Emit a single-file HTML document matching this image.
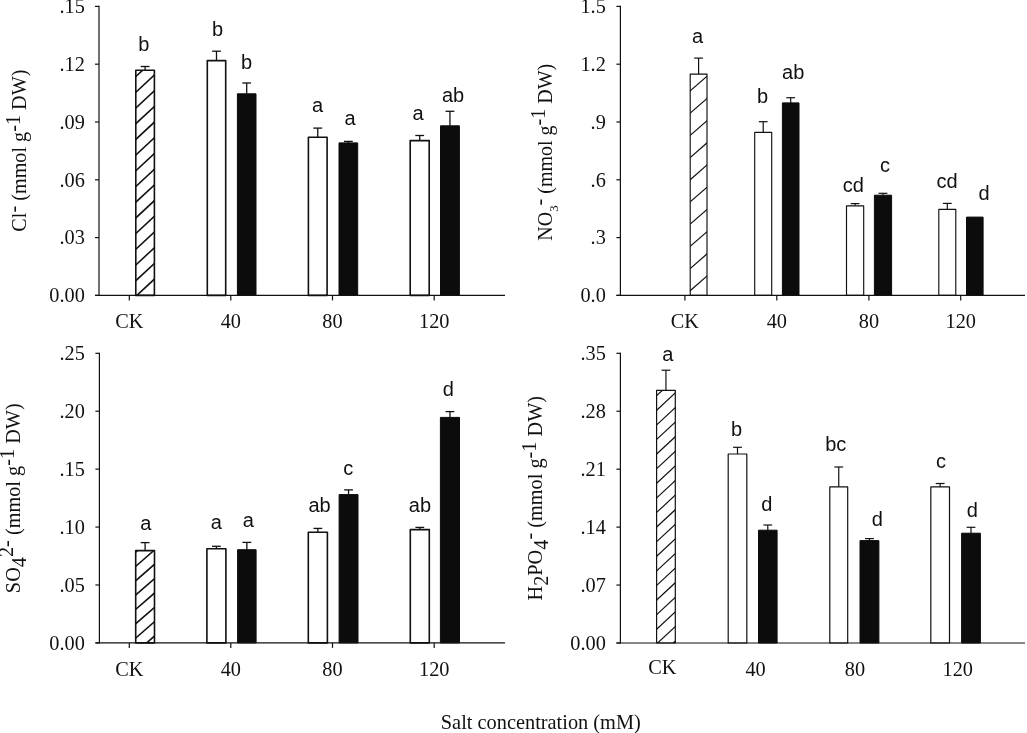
<!DOCTYPE html>
<html lang="en"><head><meta charset="utf-8"><title>Anion concentrations under salt stress</title>
<style>html,body{margin:0;padding:0;background:#fff}svg{display:block}</style></head><body>
<svg width="1027" height="733" viewBox="0 0 1027 733" role="img" aria-label="Anion concentrations (Cl-, NO3-, SO4 2-, H2PO4-) versus salt concentration" stroke-linejoin="round">
<rect width="1027" height="733" fill="#fff"/>
<line x1="145.10" y1="66.50" x2="145.10" y2="70.20" stroke="#111" stroke-width="1.3"/>
<line x1="140.70" y1="66.50" x2="149.50" y2="66.50" stroke="#111" stroke-width="1.3"/>
<clipPath id="c1"><rect x="135.80" y="70.20" width="18.60" height="225.20"/></clipPath>
<rect x="135.80" y="70.20" width="18.60" height="225.20" fill="#fff"/>
<g clip-path="url(#c1)">
<line x1="134.80" y1="297.33" x2="155.40" y2="278.17" stroke="#111" stroke-width="1.6"/>
<line x1="134.80" y1="281.63" x2="155.40" y2="262.47" stroke="#111" stroke-width="1.6"/>
<line x1="134.80" y1="265.93" x2="155.40" y2="246.77" stroke="#111" stroke-width="1.6"/>
<line x1="134.80" y1="250.23" x2="155.40" y2="231.07" stroke="#111" stroke-width="1.6"/>
<line x1="134.80" y1="234.53" x2="155.40" y2="215.37" stroke="#111" stroke-width="1.6"/>
<line x1="134.80" y1="218.83" x2="155.40" y2="199.67" stroke="#111" stroke-width="1.6"/>
<line x1="134.80" y1="203.13" x2="155.40" y2="183.97" stroke="#111" stroke-width="1.6"/>
<line x1="134.80" y1="187.43" x2="155.40" y2="168.27" stroke="#111" stroke-width="1.6"/>
<line x1="134.80" y1="171.73" x2="155.40" y2="152.57" stroke="#111" stroke-width="1.6"/>
<line x1="134.80" y1="156.03" x2="155.40" y2="136.87" stroke="#111" stroke-width="1.6"/>
<line x1="134.80" y1="140.33" x2="155.40" y2="121.17" stroke="#111" stroke-width="1.6"/>
<line x1="134.80" y1="124.63" x2="155.40" y2="105.47" stroke="#111" stroke-width="1.6"/>
<line x1="134.80" y1="108.93" x2="155.40" y2="89.77" stroke="#111" stroke-width="1.6"/>
<line x1="134.80" y1="93.23" x2="155.40" y2="74.07" stroke="#111" stroke-width="1.6"/>
<line x1="134.80" y1="77.53" x2="155.40" y2="58.37" stroke="#111" stroke-width="1.6"/>
<line x1="134.80" y1="313.03" x2="155.40" y2="293.87" stroke="#111" stroke-width="1.6"/>
</g>
<rect x="135.80" y="70.20" width="18.60" height="225.20" fill="none" stroke="#111" stroke-width="1.6"/>
<line x1="216.50" y1="51.20" x2="216.50" y2="60.60" stroke="#111" stroke-width="1.3"/>
<line x1="212.10" y1="51.20" x2="220.90" y2="51.20" stroke="#111" stroke-width="1.3"/>
<rect x="207.30" y="60.60" width="18.40" height="234.80" fill="#fff" stroke="#111" stroke-width="1.6"/>
<line x1="246.70" y1="83.00" x2="246.70" y2="93.80" stroke="#111" stroke-width="1.3"/>
<line x1="242.30" y1="83.00" x2="251.10" y2="83.00" stroke="#111" stroke-width="1.3"/>
<rect x="237.40" y="93.80" width="18.60" height="201.60" fill="#0c0c0c" stroke="#0c0c0c" stroke-width="1"/>
<line x1="317.75" y1="128.10" x2="317.75" y2="137.30" stroke="#111" stroke-width="1.3"/>
<line x1="313.35" y1="128.10" x2="322.15" y2="128.10" stroke="#111" stroke-width="1.3"/>
<rect x="308.40" y="137.30" width="18.70" height="158.10" fill="#fff" stroke="#111" stroke-width="1.6"/>
<line x1="348.35" y1="141.40" x2="348.35" y2="142.90" stroke="#111" stroke-width="1.3"/>
<line x1="343.95" y1="141.40" x2="352.75" y2="141.40" stroke="#111" stroke-width="1.3"/>
<rect x="339.00" y="142.90" width="18.70" height="152.50" fill="#0c0c0c" stroke="#0c0c0c" stroke-width="1"/>
<line x1="419.70" y1="135.50" x2="419.70" y2="140.60" stroke="#111" stroke-width="1.3"/>
<line x1="415.30" y1="135.50" x2="424.10" y2="135.50" stroke="#111" stroke-width="1.3"/>
<rect x="410.20" y="140.60" width="19.00" height="154.80" fill="#fff" stroke="#111" stroke-width="1.6"/>
<line x1="449.95" y1="111.30" x2="449.95" y2="125.80" stroke="#111" stroke-width="1.3"/>
<line x1="445.55" y1="111.30" x2="454.35" y2="111.30" stroke="#111" stroke-width="1.3"/>
<rect x="440.50" y="125.80" width="18.90" height="169.60" fill="#0c0c0c" stroke="#0c0c0c" stroke-width="1"/>
<line x1="99.00" y1="5.80" x2="99.00" y2="296.00" stroke="#111" stroke-width="1.2"/>
<line x1="95.00" y1="295.40" x2="505.00" y2="295.40" stroke="#111" stroke-width="1.2"/>
<line x1="95.00" y1="6.40" x2="99.00" y2="6.40" stroke="#111" stroke-width="1.2"/>
<text x="84.80" y="13.10" font-size="20.3" text-anchor="end" font-family='"Liberation Serif", serif' fill="#111" >.15</text>
<line x1="95.00" y1="64.20" x2="99.00" y2="64.20" stroke="#111" stroke-width="1.2"/>
<text x="84.80" y="70.90" font-size="20.3" text-anchor="end" font-family='"Liberation Serif", serif' fill="#111" >.12</text>
<line x1="95.00" y1="122.00" x2="99.00" y2="122.00" stroke="#111" stroke-width="1.2"/>
<text x="84.80" y="128.70" font-size="20.3" text-anchor="end" font-family='"Liberation Serif", serif' fill="#111" >.09</text>
<line x1="95.00" y1="179.80" x2="99.00" y2="179.80" stroke="#111" stroke-width="1.2"/>
<text x="84.80" y="186.50" font-size="20.3" text-anchor="end" font-family='"Liberation Serif", serif' fill="#111" >.06</text>
<line x1="95.00" y1="237.60" x2="99.00" y2="237.60" stroke="#111" stroke-width="1.2"/>
<text x="84.80" y="244.30" font-size="20.3" text-anchor="end" font-family='"Liberation Serif", serif' fill="#111" >.03</text>
<line x1="95.00" y1="295.40" x2="99.00" y2="295.40" stroke="#111" stroke-width="1.2"/>
<text x="84.80" y="302.10" font-size="20.3" text-anchor="end" font-family='"Liberation Serif", serif' fill="#111" >0.00</text>
<line x1="129.30" y1="295.40" x2="129.30" y2="300.40" stroke="#111" stroke-width="1.2"/>
<text x="129.30" y="327.80" font-size="20.3" text-anchor="middle" font-family='"Liberation Serif", serif' fill="#111" >CK</text>
<line x1="230.80" y1="295.40" x2="230.80" y2="300.40" stroke="#111" stroke-width="1.2"/>
<text x="230.80" y="327.80" font-size="20.3" text-anchor="middle" font-family='"Liberation Serif", serif' fill="#111" >40</text>
<line x1="332.50" y1="295.40" x2="332.50" y2="300.40" stroke="#111" stroke-width="1.2"/>
<text x="332.50" y="327.80" font-size="20.3" text-anchor="middle" font-family='"Liberation Serif", serif' fill="#111" >80</text>
<line x1="434.20" y1="295.40" x2="434.20" y2="300.40" stroke="#111" stroke-width="1.2"/>
<text x="434.20" y="327.80" font-size="20.3" text-anchor="middle" font-family='"Liberation Serif", serif' fill="#111" >120</text>
<text x="143.90" y="51.00" font-size="20" text-anchor="middle" font-family='"Liberation Sans", sans-serif' fill="#111" >b</text>
<text x="217.60" y="36.10" font-size="20" text-anchor="middle" font-family='"Liberation Sans", sans-serif' fill="#111" >b</text>
<text x="246.60" y="69.30" font-size="20" text-anchor="middle" font-family='"Liberation Sans", sans-serif' fill="#111" >b</text>
<text x="317.60" y="111.90" font-size="20" text-anchor="middle" font-family='"Liberation Sans", sans-serif' fill="#111" >a</text>
<text x="350.10" y="124.90" font-size="20" text-anchor="middle" font-family='"Liberation Sans", sans-serif' fill="#111" >a</text>
<text x="418.00" y="119.50" font-size="20" text-anchor="middle" font-family='"Liberation Sans", sans-serif' fill="#111" >a</text>
<text x="453.00" y="101.60" font-size="20" text-anchor="middle" font-family='"Liberation Sans", sans-serif' fill="#111" >ab</text>
<line x1="698.60" y1="58.10" x2="698.60" y2="74.10" stroke="#111" stroke-width="1.2"/>
<line x1="694.20" y1="58.10" x2="703.00" y2="58.10" stroke="#111" stroke-width="1.2"/>
<clipPath id="c2"><rect x="690.20" y="74.10" width="16.80" height="221.30"/></clipPath>
<rect x="690.20" y="74.10" width="16.80" height="221.30" fill="#fff"/>
<g clip-path="url(#c2)">
<line x1="689.20" y1="291.57" x2="708.00" y2="275.21" stroke="#111" stroke-width="1.15"/>
<line x1="689.20" y1="269.37" x2="708.00" y2="253.01" stroke="#111" stroke-width="1.15"/>
<line x1="689.20" y1="247.17" x2="708.00" y2="230.81" stroke="#111" stroke-width="1.15"/>
<line x1="689.20" y1="224.97" x2="708.00" y2="208.61" stroke="#111" stroke-width="1.15"/>
<line x1="689.20" y1="202.77" x2="708.00" y2="186.41" stroke="#111" stroke-width="1.15"/>
<line x1="689.20" y1="180.57" x2="708.00" y2="164.21" stroke="#111" stroke-width="1.15"/>
<line x1="689.20" y1="158.37" x2="708.00" y2="142.01" stroke="#111" stroke-width="1.15"/>
<line x1="689.20" y1="136.17" x2="708.00" y2="119.81" stroke="#111" stroke-width="1.15"/>
<line x1="689.20" y1="113.97" x2="708.00" y2="97.61" stroke="#111" stroke-width="1.15"/>
<line x1="689.20" y1="91.77" x2="708.00" y2="75.41" stroke="#111" stroke-width="1.15"/>
</g>
<rect x="690.20" y="74.10" width="16.80" height="221.30" fill="none" stroke="#111" stroke-width="1.15"/>
<line x1="763.20" y1="121.70" x2="763.20" y2="132.40" stroke="#111" stroke-width="1.2"/>
<line x1="758.80" y1="121.70" x2="767.60" y2="121.70" stroke="#111" stroke-width="1.2"/>
<rect x="754.70" y="132.40" width="17.00" height="163.00" fill="#fff" stroke="#111" stroke-width="1.15"/>
<line x1="790.70" y1="97.70" x2="790.70" y2="102.90" stroke="#111" stroke-width="1.2"/>
<line x1="786.30" y1="97.70" x2="795.10" y2="97.70" stroke="#111" stroke-width="1.2"/>
<rect x="782.40" y="102.90" width="16.60" height="192.50" fill="#0c0c0c" stroke="#0c0c0c" stroke-width="1"/>
<line x1="855.10" y1="203.60" x2="855.10" y2="205.80" stroke="#111" stroke-width="1.2"/>
<line x1="850.70" y1="203.60" x2="859.50" y2="203.60" stroke="#111" stroke-width="1.2"/>
<rect x="846.50" y="205.80" width="17.20" height="89.60" fill="#fff" stroke="#111" stroke-width="1.15"/>
<line x1="883.00" y1="193.30" x2="883.00" y2="195.20" stroke="#111" stroke-width="1.2"/>
<line x1="878.60" y1="193.30" x2="887.40" y2="193.30" stroke="#111" stroke-width="1.2"/>
<rect x="874.40" y="195.20" width="17.20" height="100.20" fill="#0c0c0c" stroke="#0c0c0c" stroke-width="1"/>
<line x1="947.30" y1="203.40" x2="947.30" y2="209.30" stroke="#111" stroke-width="1.2"/>
<line x1="942.90" y1="203.40" x2="951.70" y2="203.40" stroke="#111" stroke-width="1.2"/>
<rect x="938.80" y="209.30" width="17.00" height="86.10" fill="#fff" stroke="#111" stroke-width="1.15"/>
<rect x="966.50" y="217.10" width="16.60" height="78.30" fill="#0c0c0c" stroke="#0c0c0c" stroke-width="1"/>
<line x1="620.40" y1="5.80" x2="620.40" y2="296.00" stroke="#111" stroke-width="1.2"/>
<line x1="616.40" y1="295.40" x2="1025.00" y2="295.40" stroke="#111" stroke-width="1.2"/>
<line x1="616.40" y1="6.40" x2="620.40" y2="6.40" stroke="#111" stroke-width="1.2"/>
<text x="605.80" y="13.10" font-size="20.3" text-anchor="end" font-family='"Liberation Serif", serif' fill="#111" >1.5</text>
<line x1="616.40" y1="64.20" x2="620.40" y2="64.20" stroke="#111" stroke-width="1.2"/>
<text x="605.80" y="70.90" font-size="20.3" text-anchor="end" font-family='"Liberation Serif", serif' fill="#111" >1.2</text>
<line x1="616.40" y1="122.00" x2="620.40" y2="122.00" stroke="#111" stroke-width="1.2"/>
<text x="605.80" y="128.70" font-size="20.3" text-anchor="end" font-family='"Liberation Serif", serif' fill="#111" >.9</text>
<line x1="616.40" y1="179.80" x2="620.40" y2="179.80" stroke="#111" stroke-width="1.2"/>
<text x="605.80" y="186.50" font-size="20.3" text-anchor="end" font-family='"Liberation Serif", serif' fill="#111" >.6</text>
<line x1="616.40" y1="237.60" x2="620.40" y2="237.60" stroke="#111" stroke-width="1.2"/>
<text x="605.80" y="244.30" font-size="20.3" text-anchor="end" font-family='"Liberation Serif", serif' fill="#111" >.3</text>
<line x1="616.40" y1="295.40" x2="620.40" y2="295.40" stroke="#111" stroke-width="1.2"/>
<text x="605.80" y="302.10" font-size="20.3" text-anchor="end" font-family='"Liberation Serif", serif' fill="#111" >0.0</text>
<line x1="684.90" y1="295.40" x2="684.90" y2="300.40" stroke="#111" stroke-width="1.2"/>
<text x="684.90" y="327.80" font-size="20.3" text-anchor="middle" font-family='"Liberation Serif", serif' fill="#111" >CK</text>
<line x1="776.80" y1="295.40" x2="776.80" y2="300.40" stroke="#111" stroke-width="1.2"/>
<text x="776.80" y="327.80" font-size="20.3" text-anchor="middle" font-family='"Liberation Serif", serif' fill="#111" >40</text>
<line x1="868.90" y1="295.40" x2="868.90" y2="300.40" stroke="#111" stroke-width="1.2"/>
<text x="868.90" y="327.80" font-size="20.3" text-anchor="middle" font-family='"Liberation Serif", serif' fill="#111" >80</text>
<line x1="960.70" y1="295.40" x2="960.70" y2="300.40" stroke="#111" stroke-width="1.2"/>
<text x="960.70" y="327.80" font-size="20.3" text-anchor="middle" font-family='"Liberation Serif", serif' fill="#111" >120</text>
<text x="697.60" y="43.10" font-size="20" text-anchor="middle" font-family='"Liberation Sans", sans-serif' fill="#111" >a</text>
<text x="762.50" y="103.10" font-size="20" text-anchor="middle" font-family='"Liberation Sans", sans-serif' fill="#111" >b</text>
<text x="793.20" y="78.60" font-size="20" text-anchor="middle" font-family='"Liberation Sans", sans-serif' fill="#111" >ab</text>
<text x="853.30" y="191.70" font-size="20" text-anchor="middle" font-family='"Liberation Sans", sans-serif' fill="#111" >cd</text>
<text x="885.00" y="172.20" font-size="20" text-anchor="middle" font-family='"Liberation Sans", sans-serif' fill="#111" >c</text>
<text x="947.00" y="188.00" font-size="20" text-anchor="middle" font-family='"Liberation Sans", sans-serif' fill="#111" >cd</text>
<text x="984.10" y="200.10" font-size="20" text-anchor="middle" font-family='"Liberation Sans", sans-serif' fill="#111" >d</text>
<line x1="145.10" y1="542.60" x2="145.10" y2="550.60" stroke="#111" stroke-width="1.3"/>
<line x1="140.70" y1="542.60" x2="149.50" y2="542.60" stroke="#111" stroke-width="1.3"/>
<clipPath id="c3"><rect x="135.70" y="550.60" width="18.80" height="92.30"/></clipPath>
<rect x="135.70" y="550.60" width="18.80" height="92.30" fill="#fff"/>
<g clip-path="url(#c3)">
<line x1="134.70" y1="638.97" x2="155.50" y2="620.87" stroke="#111" stroke-width="1.6"/>
<line x1="134.70" y1="624.62" x2="155.50" y2="606.52" stroke="#111" stroke-width="1.6"/>
<line x1="134.70" y1="610.27" x2="155.50" y2="592.17" stroke="#111" stroke-width="1.6"/>
<line x1="134.70" y1="595.92" x2="155.50" y2="577.82" stroke="#111" stroke-width="1.6"/>
<line x1="134.70" y1="581.57" x2="155.50" y2="563.47" stroke="#111" stroke-width="1.6"/>
<line x1="134.70" y1="567.22" x2="155.50" y2="549.12" stroke="#111" stroke-width="1.6"/>
<line x1="134.70" y1="552.87" x2="155.50" y2="534.77" stroke="#111" stroke-width="1.6"/>
<line x1="134.70" y1="653.32" x2="155.50" y2="635.22" stroke="#111" stroke-width="1.6"/>
</g>
<rect x="135.70" y="550.60" width="18.80" height="92.30" fill="none" stroke="#111" stroke-width="1.6"/>
<line x1="216.40" y1="546.30" x2="216.40" y2="548.70" stroke="#111" stroke-width="1.3"/>
<line x1="212.00" y1="546.30" x2="220.80" y2="546.30" stroke="#111" stroke-width="1.3"/>
<rect x="206.90" y="548.70" width="19.00" height="94.20" fill="#fff" stroke="#111" stroke-width="1.6"/>
<line x1="246.85" y1="542.40" x2="246.85" y2="549.70" stroke="#111" stroke-width="1.3"/>
<line x1="242.45" y1="542.40" x2="251.25" y2="542.40" stroke="#111" stroke-width="1.3"/>
<rect x="237.60" y="549.70" width="18.50" height="93.20" fill="#0c0c0c" stroke="#0c0c0c" stroke-width="1"/>
<line x1="317.85" y1="528.40" x2="317.85" y2="532.30" stroke="#111" stroke-width="1.3"/>
<line x1="313.45" y1="528.40" x2="322.25" y2="528.40" stroke="#111" stroke-width="1.3"/>
<rect x="308.30" y="532.30" width="19.10" height="110.60" fill="#fff" stroke="#111" stroke-width="1.6"/>
<line x1="348.55" y1="489.90" x2="348.55" y2="494.60" stroke="#111" stroke-width="1.3"/>
<line x1="344.15" y1="489.90" x2="352.95" y2="489.90" stroke="#111" stroke-width="1.3"/>
<rect x="339.10" y="494.60" width="18.90" height="148.30" fill="#0c0c0c" stroke="#0c0c0c" stroke-width="1"/>
<line x1="419.80" y1="527.40" x2="419.80" y2="529.60" stroke="#111" stroke-width="1.3"/>
<line x1="415.40" y1="527.40" x2="424.20" y2="527.40" stroke="#111" stroke-width="1.3"/>
<rect x="410.30" y="529.60" width="19.00" height="113.30" fill="#fff" stroke="#111" stroke-width="1.6"/>
<line x1="449.95" y1="411.60" x2="449.95" y2="417.40" stroke="#111" stroke-width="1.3"/>
<line x1="445.55" y1="411.60" x2="454.35" y2="411.60" stroke="#111" stroke-width="1.3"/>
<rect x="440.40" y="417.40" width="19.10" height="225.50" fill="#0c0c0c" stroke="#0c0c0c" stroke-width="1"/>
<line x1="99.40" y1="352.70" x2="99.40" y2="643.50" stroke="#111" stroke-width="1.2"/>
<line x1="95.40" y1="642.90" x2="505.00" y2="642.90" stroke="#111" stroke-width="1.2"/>
<line x1="95.40" y1="353.30" x2="99.40" y2="353.30" stroke="#111" stroke-width="1.2"/>
<text x="84.80" y="360.00" font-size="20.3" text-anchor="end" font-family='"Liberation Serif", serif' fill="#111" >.25</text>
<line x1="95.40" y1="411.22" x2="99.40" y2="411.22" stroke="#111" stroke-width="1.2"/>
<text x="84.80" y="417.92" font-size="20.3" text-anchor="end" font-family='"Liberation Serif", serif' fill="#111" >.20</text>
<line x1="95.40" y1="469.14" x2="99.40" y2="469.14" stroke="#111" stroke-width="1.2"/>
<text x="84.80" y="475.84" font-size="20.3" text-anchor="end" font-family='"Liberation Serif", serif' fill="#111" >.15</text>
<line x1="95.40" y1="527.06" x2="99.40" y2="527.06" stroke="#111" stroke-width="1.2"/>
<text x="84.80" y="533.76" font-size="20.3" text-anchor="end" font-family='"Liberation Serif", serif' fill="#111" >.10</text>
<line x1="95.40" y1="584.98" x2="99.40" y2="584.98" stroke="#111" stroke-width="1.2"/>
<text x="84.80" y="591.68" font-size="20.3" text-anchor="end" font-family='"Liberation Serif", serif' fill="#111" >.05</text>
<line x1="95.40" y1="642.90" x2="99.40" y2="642.90" stroke="#111" stroke-width="1.2"/>
<text x="84.80" y="649.60" font-size="20.3" text-anchor="end" font-family='"Liberation Serif", serif' fill="#111" >0.00</text>
<line x1="129.30" y1="642.90" x2="129.30" y2="647.90" stroke="#111" stroke-width="1.2"/>
<text x="129.30" y="675.90" font-size="20.3" text-anchor="middle" font-family='"Liberation Serif", serif' fill="#111" >CK</text>
<line x1="230.80" y1="642.90" x2="230.80" y2="647.90" stroke="#111" stroke-width="1.2"/>
<text x="230.80" y="675.90" font-size="20.3" text-anchor="middle" font-family='"Liberation Serif", serif' fill="#111" >40</text>
<line x1="332.50" y1="642.90" x2="332.50" y2="647.90" stroke="#111" stroke-width="1.2"/>
<text x="332.50" y="675.90" font-size="20.3" text-anchor="middle" font-family='"Liberation Serif", serif' fill="#111" >80</text>
<line x1="434.20" y1="642.90" x2="434.20" y2="647.90" stroke="#111" stroke-width="1.2"/>
<text x="434.20" y="675.90" font-size="20.3" text-anchor="middle" font-family='"Liberation Serif", serif' fill="#111" >120</text>
<text x="145.90" y="530.40" font-size="20" text-anchor="middle" font-family='"Liberation Sans", sans-serif' fill="#111" >a</text>
<text x="216.30" y="528.80" font-size="20" text-anchor="middle" font-family='"Liberation Sans", sans-serif' fill="#111" >a</text>
<text x="248.30" y="527.40" font-size="20" text-anchor="middle" font-family='"Liberation Sans", sans-serif' fill="#111" >a</text>
<text x="319.60" y="511.90" font-size="20" text-anchor="middle" font-family='"Liberation Sans", sans-serif' fill="#111" >ab</text>
<text x="348.30" y="475.00" font-size="20" text-anchor="middle" font-family='"Liberation Sans", sans-serif' fill="#111" >c</text>
<text x="419.90" y="511.90" font-size="20" text-anchor="middle" font-family='"Liberation Sans", sans-serif' fill="#111" >ab</text>
<text x="448.20" y="395.60" font-size="20" text-anchor="middle" font-family='"Liberation Sans", sans-serif' fill="#111" >d</text>
<line x1="665.95" y1="370.20" x2="665.95" y2="390.30" stroke="#111" stroke-width="1.2"/>
<line x1="661.55" y1="370.20" x2="670.35" y2="370.20" stroke="#111" stroke-width="1.2"/>
<clipPath id="c4"><rect x="656.60" y="390.30" width="18.70" height="252.70"/></clipPath>
<rect x="656.60" y="390.30" width="18.70" height="252.70" fill="#fff"/>
<g clip-path="url(#c4)">
<line x1="655.60" y1="644.83" x2="676.30" y2="625.58" stroke="#111" stroke-width="1.2"/>
<line x1="655.60" y1="630.23" x2="676.30" y2="610.98" stroke="#111" stroke-width="1.2"/>
<line x1="655.60" y1="615.63" x2="676.30" y2="596.38" stroke="#111" stroke-width="1.2"/>
<line x1="655.60" y1="601.03" x2="676.30" y2="581.78" stroke="#111" stroke-width="1.2"/>
<line x1="655.60" y1="586.43" x2="676.30" y2="567.18" stroke="#111" stroke-width="1.2"/>
<line x1="655.60" y1="571.83" x2="676.30" y2="552.58" stroke="#111" stroke-width="1.2"/>
<line x1="655.60" y1="557.23" x2="676.30" y2="537.98" stroke="#111" stroke-width="1.2"/>
<line x1="655.60" y1="542.63" x2="676.30" y2="523.38" stroke="#111" stroke-width="1.2"/>
<line x1="655.60" y1="528.03" x2="676.30" y2="508.78" stroke="#111" stroke-width="1.2"/>
<line x1="655.60" y1="513.43" x2="676.30" y2="494.18" stroke="#111" stroke-width="1.2"/>
<line x1="655.60" y1="498.83" x2="676.30" y2="479.58" stroke="#111" stroke-width="1.2"/>
<line x1="655.60" y1="484.23" x2="676.30" y2="464.98" stroke="#111" stroke-width="1.2"/>
<line x1="655.60" y1="469.63" x2="676.30" y2="450.38" stroke="#111" stroke-width="1.2"/>
<line x1="655.60" y1="455.03" x2="676.30" y2="435.78" stroke="#111" stroke-width="1.2"/>
<line x1="655.60" y1="440.43" x2="676.30" y2="421.18" stroke="#111" stroke-width="1.2"/>
<line x1="655.60" y1="425.83" x2="676.30" y2="406.58" stroke="#111" stroke-width="1.2"/>
<line x1="655.60" y1="411.23" x2="676.30" y2="391.98" stroke="#111" stroke-width="1.2"/>
<line x1="655.60" y1="396.63" x2="676.30" y2="377.38" stroke="#111" stroke-width="1.2"/>
<line x1="655.60" y1="659.43" x2="676.30" y2="640.18" stroke="#111" stroke-width="1.2"/>
</g>
<rect x="656.60" y="390.30" width="18.70" height="252.70" fill="none" stroke="#111" stroke-width="1.2"/>
<line x1="737.50" y1="447.30" x2="737.50" y2="454.00" stroke="#111" stroke-width="1.2"/>
<line x1="733.10" y1="447.30" x2="741.90" y2="447.30" stroke="#111" stroke-width="1.2"/>
<rect x="728.20" y="454.00" width="18.60" height="189.00" fill="#fff" stroke="#111" stroke-width="1.2"/>
<line x1="767.80" y1="525.00" x2="767.80" y2="530.20" stroke="#111" stroke-width="1.2"/>
<line x1="763.40" y1="525.00" x2="772.20" y2="525.00" stroke="#111" stroke-width="1.2"/>
<rect x="758.50" y="530.20" width="18.60" height="112.80" fill="#0c0c0c" stroke="#0c0c0c" stroke-width="1"/>
<line x1="838.75" y1="467.00" x2="838.75" y2="486.90" stroke="#111" stroke-width="1.2"/>
<line x1="834.35" y1="467.00" x2="843.15" y2="467.00" stroke="#111" stroke-width="1.2"/>
<rect x="829.80" y="486.90" width="17.90" height="156.10" fill="#fff" stroke="#111" stroke-width="1.2"/>
<line x1="869.45" y1="538.60" x2="869.45" y2="540.60" stroke="#111" stroke-width="1.2"/>
<line x1="865.05" y1="538.60" x2="873.85" y2="538.60" stroke="#111" stroke-width="1.2"/>
<rect x="860.00" y="540.60" width="18.90" height="102.40" fill="#0c0c0c" stroke="#0c0c0c" stroke-width="1"/>
<line x1="940.15" y1="483.50" x2="940.15" y2="486.90" stroke="#111" stroke-width="1.2"/>
<line x1="935.75" y1="483.50" x2="944.55" y2="483.50" stroke="#111" stroke-width="1.2"/>
<rect x="930.80" y="486.90" width="18.70" height="156.10" fill="#fff" stroke="#111" stroke-width="1.2"/>
<line x1="971.00" y1="527.30" x2="971.00" y2="533.20" stroke="#111" stroke-width="1.2"/>
<line x1="966.60" y1="527.30" x2="975.40" y2="527.30" stroke="#111" stroke-width="1.2"/>
<rect x="961.60" y="533.20" width="18.80" height="109.80" fill="#0c0c0c" stroke="#0c0c0c" stroke-width="1"/>
<line x1="620.40" y1="352.70" x2="620.40" y2="643.60" stroke="#111" stroke-width="1.2"/>
<line x1="616.40" y1="643.00" x2="1025.00" y2="643.00" stroke="#111" stroke-width="1.2"/>
<line x1="616.40" y1="353.30" x2="620.40" y2="353.30" stroke="#111" stroke-width="1.2"/>
<text x="605.80" y="360.00" font-size="20.3" text-anchor="end" font-family='"Liberation Serif", serif' fill="#111" >.35</text>
<line x1="616.40" y1="411.24" x2="620.40" y2="411.24" stroke="#111" stroke-width="1.2"/>
<text x="605.80" y="417.94" font-size="20.3" text-anchor="end" font-family='"Liberation Serif", serif' fill="#111" >.28</text>
<line x1="616.40" y1="469.18" x2="620.40" y2="469.18" stroke="#111" stroke-width="1.2"/>
<text x="605.80" y="475.88" font-size="20.3" text-anchor="end" font-family='"Liberation Serif", serif' fill="#111" >.21</text>
<line x1="616.40" y1="527.12" x2="620.40" y2="527.12" stroke="#111" stroke-width="1.2"/>
<text x="605.80" y="533.82" font-size="20.3" text-anchor="end" font-family='"Liberation Serif", serif' fill="#111" >.14</text>
<line x1="616.40" y1="585.06" x2="620.40" y2="585.06" stroke="#111" stroke-width="1.2"/>
<text x="605.80" y="591.76" font-size="20.3" text-anchor="end" font-family='"Liberation Serif", serif' fill="#111" >.07</text>
<line x1="616.40" y1="643.00" x2="620.40" y2="643.00" stroke="#111" stroke-width="1.2"/>
<text x="605.80" y="649.70" font-size="20.3" text-anchor="end" font-family='"Liberation Serif", serif' fill="#111" >0.00</text>
<text x="662.40" y="673.90" font-size="20.3" text-anchor="middle" font-family='"Liberation Serif", serif' fill="#111" >CK</text>
<text x="755.60" y="676.40" font-size="20.3" text-anchor="middle" font-family='"Liberation Serif", serif' fill="#111" >40</text>
<text x="855.00" y="676.40" font-size="20.3" text-anchor="middle" font-family='"Liberation Serif", serif' fill="#111" >80</text>
<text x="957.70" y="676.40" font-size="20.3" text-anchor="middle" font-family='"Liberation Serif", serif' fill="#111" >120</text>
<text x="667.70" y="360.50" font-size="20" text-anchor="middle" font-family='"Liberation Sans", sans-serif' fill="#111" >a</text>
<text x="736.60" y="435.80" font-size="20" text-anchor="middle" font-family='"Liberation Sans", sans-serif' fill="#111" >b</text>
<text x="766.90" y="510.70" font-size="20" text-anchor="middle" font-family='"Liberation Sans", sans-serif' fill="#111" >d</text>
<text x="835.80" y="451.40" font-size="20" text-anchor="middle" font-family='"Liberation Sans", sans-serif' fill="#111" >bc</text>
<text x="877.20" y="526.00" font-size="20" text-anchor="middle" font-family='"Liberation Sans", sans-serif' fill="#111" >d</text>
<text x="941.10" y="468.00" font-size="20" text-anchor="middle" font-family='"Liberation Sans", sans-serif' fill="#111" >c</text>
<text x="972.40" y="516.60" font-size="20" text-anchor="middle" font-family='"Liberation Sans", sans-serif' fill="#111" >d</text>
<text transform="translate(26.00,150.60) rotate(-90)" font-size="20.2" text-anchor="middle" font-family='"Liberation Serif", serif' fill="#111"><tspan dy="0">Cl</tspan><tspan dy="-6.5">-</tspan><tspan dy="6.5"> (mmol g</tspan><tspan dy="-6.5">-1</tspan><tspan dy="6.5"> DW)</tspan></text>
<text transform="translate(551.70,240.70) rotate(-90)" font-size="20" text-anchor="start" font-family='"Liberation Serif", serif' fill="#111"><tspan dy="0">NO</tspan><tspan dy="6" font-size="12.8">3</tspan><tspan dy="-12">-</tspan><tspan dy="6"> (mmol g</tspan><tspan dy="-6.5">-1</tspan><tspan dy="6.5"> DW)</tspan></text>
<text transform="translate(20.40,498.20) rotate(-90)" font-size="20.3" text-anchor="middle" font-family='"Liberation Serif", serif' fill="#111"><tspan dy="0">SO</tspan><tspan dy="5.5">4</tspan><tspan dy="-12.5">2-</tspan><tspan dy="7.0"> (mmol g</tspan><tspan dy="-6.5">-1</tspan><tspan dy="6.5"> DW)</tspan></text>
<text transform="translate(542.00,498.20) rotate(-90)" font-size="20.3" text-anchor="middle" font-family='"Liberation Serif", serif' fill="#111"><tspan dy="0">H</tspan><tspan dy="5.5">2</tspan><tspan dy="-5.5">PO</tspan><tspan dy="5.5">4</tspan><tspan dy="-12.0">-</tspan><tspan dy="6.5"> (mmol g</tspan><tspan dy="-6.5">-1</tspan><tspan dy="6.5"> DW)</tspan></text>
<text x="640.80" y="729.40" font-size="20.35" text-anchor="end" font-family='"Liberation Serif", serif' fill="#111" >Salt concentration (mM)</text>
</svg></body></html>
